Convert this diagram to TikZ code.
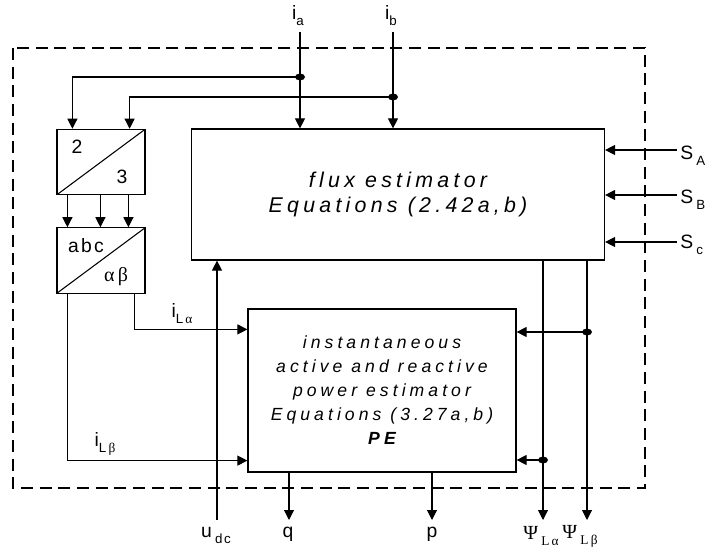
\documentclass[tikz,border=0pt]{standalone}
\usepackage{fontspec}
\setmainfont{Liberation Sans}
\newfontfamily\greekfont{Liberation Serif}
\newfontfamily\spacedfont[LetterSpace=20]{Liberation Sans}
\newfontfamily\pefont[LetterSpace=23]{Liberation Sans}
\newfontfamily\looseefont[LetterSpace=12]{Liberation Sans}
\usetikzlibrary{arrows.meta, calc}

\newcommand{\lsub}[1]{\raisebox{-4.5pt}{\fontsize{10}{11}\selectfont #1}}

\begin{document}
\begin{tikzpicture}[
  x=0.75pt, y=-0.75pt,
  block/.style={draw=black, line width=0.9pt, inner sep=0pt, align=center},
  convbox/.style={
    draw=black, line width=0.9pt, inner sep=0pt,
    minimum width=66pt, minimum height=49pt,
    path picture={
      \draw[line width=0.8pt] (path picture bounding box.south west) -- (path picture bounding box.north east); % Diagonal
    }
  },
  flow/.style={-{Triangle[length=7.5pt, width=7.5pt]}, line width=0.8pt},
  frame/.style={draw=black, line width=0.8pt, dash pattern=on 9pt off 5pt},
  lab/.style={inner sep=0pt, font=\fontsize{14.5}{16}\selectfont},
  boxlab/.style={inner sep=0pt, font=\looseefont\fontsize{14.5}{16}\selectfont},
  junction/.style={fill=black}
]
\useasboundingbox (0,0) rectangle (714,556);

% ----------------- SYSTEM BOUNDARY -----------------
\draw[frame] (13,48) rectangle (645,488);

% ----------------- BLOCKS -----------------
\node[block, minimum width=309.75pt, minimum height=98.25pt,
      font=\spacedfont\itshape\fontsize{16}{19}\selectfont] (flux) at (398,194.5)
      {flux estimator\\Equations (2.42a,b)};
\node[block, minimum width=201pt, minimum height=122.25pt,
      font=\pefont\itshape\fontsize{13.2}{18}\selectfont] (pe) at (382,390.5)
      {instantaneous\\active and reactive\\power estimator\\Equations (3.27a,b)\\\bfseries PE};
\node[convbox] (conv) at (101,162) {};
\node[convbox] (abc) at (101,260.5) {};

\node[boxlab] (two) at (77,147) {2};
\node[boxlab] (three) at (122,177) {3};
\node[boxlab] (abcname) at (86,246) {abc};
\node[boxlab, font=\greekfont\fontsize{15}{16}\selectfont] (abname) at (116,277) {α\,β};

% ----------------- TERMINALS -----------------
\coordinate (ia in) at (300,32);
\coordinate (ib in) at (393,32);
\coordinate (ja) at (300,77);
\coordinate (jb) at (393,97);
\coordinate (udc in) at (217,520);
\coordinate (q out) at (289,520);
\coordinate (p out) at (432,520);
\coordinate (psa out) at (543,520);
\coordinate (psb out) at (587,520);
\coordinate (jpa) at (543,460);
\coordinate (jpb) at (587,332);
\coordinate (sa in) at (677,150);
\coordinate (sb in) at (677,195);
\coordinate (sc in) at (677,242);

% ----------------- LABELS -----------------
\node[lab] (ia) at (298,16) {i\lsub{a}};
\node[lab] (ib) at (391,16) {i\lsub{b}};
\node[lab, anchor=west] (sa) at (680,156) {S\,\lsub{A}};
\node[lab, anchor=west] (sb) at (680,200) {S\,\lsub{B}};
\node[lab, anchor=west] (sc) at (680,245) {S\,\lsub{c}};
\node[lab] (ila) at (182,314) {i\lsub{L\,{\greekfont α}}};
\node[lab] (ilb) at (105,444) {i\lsub{L\,{\greekfont β}}};
\node[lab] (udc) at (216,535) {u\,\lsub{\looseefont dc}};
\node[lab] (q) at (288,534) {q};
\node[lab] (p) at (432,534) {p};
\node[lab, font=\greekfont\fontsize{15}{16}\selectfont] (psa) at (541,536) {Ψ\,\lsub{L\,α}};
\node[lab, font=\greekfont\fontsize{15}{16}\selectfont] (psb) at (580,536) {Ψ\,\lsub{L\,β}};

% ----------------- PHASE CURRENTS -----------------
\draw[flow] (ia in) -- (ia in |- flux.north);
\draw[flow] (ib in) -- (ib in |- flux.north);
\draw[flow] (ja) -| ([xshift=12pt]conv.north west);
\draw[flow] (jb) -| ([xshift=-12pt]conv.north east);
\foreach \dx in {8.25pt, 33pt, 54pt}
  \draw[flow] ([xshift=\dx]conv.south west) -- ([xshift=\dx]abc.north west);

% ----------------- ALPHA / BETA CURRENTS -----------------
\draw[flow] ([xshift=-8.25pt]abc.south east) |- ([yshift=-15.75pt]pe.north west);
\draw[flow] ([xshift=8.25pt]abc.south west) |- ([yshift=9pt]pe.south west);

% ----------------- DC VOLTAGE AND OUTPUTS -----------------
\draw[flow] (udc in) -- (udc in |- flux.south);
\draw[flow] (q out |- pe.south) -- (q out);
\draw[flow] (p out |- pe.south) -- (p out);
\draw[flow] (psa out |- flux.south) -- (psa out);
\draw[flow] (psb out |- flux.south) -- (psb out);
\draw[flow] (jpa) -- (jpa -| pe.east);
\draw[flow] (jpb) -- (jpb -| pe.east);

% ----------------- SWITCHING STATES -----------------
\draw[flow] (sa in) -- (sa in -| flux.east);
\draw[flow] (sb in) -- (sb in -| flux.east);
\draw[flow] (sc in) -- (sc in -| flux.east);

% Junction dots
\foreach \j in {ja, jb, jpa, jpb}
  \fill[junction] (\j) ellipse [x radius=3.75pt, y radius=2.6pt];

\end{tikzpicture}
\end{document}
